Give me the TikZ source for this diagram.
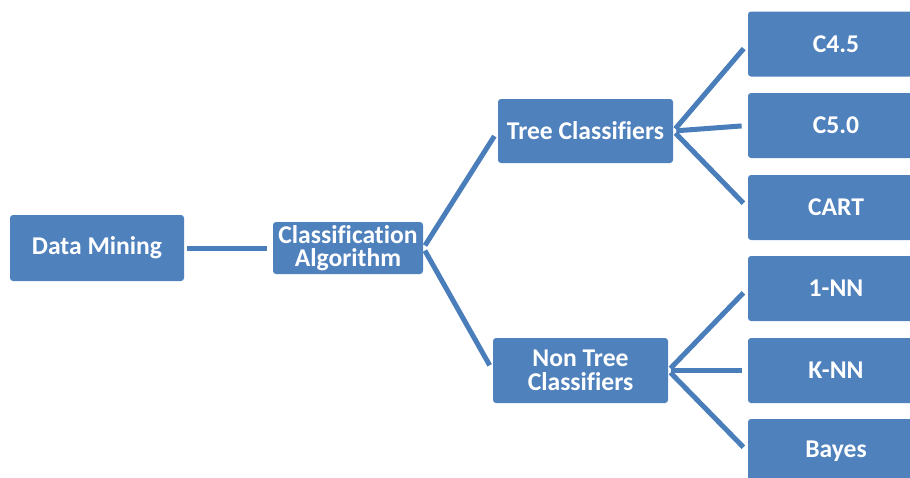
\documentclass[tikz,border=0pt]{standalone}
\usepackage{fontspec}
\setmainfont{Carlito}[Ligatures=NoCommon]
\definecolor{boxblue}{HTML}{4F81BD}
\definecolor{linkblue}{HTML}{4A7EBB}

\begin{document}
\begin{tikzpicture}[
    x=0.5pt, y=-0.5pt,
    box/.style={fill=boxblue, rounded corners=1.5pt, text=white, inner sep=0pt,
                font=\fontsize{12.8}{11.8}\selectfont\bfseries, align=center},
    leaf/.style={box, minimum width=88pt, minimum height=32.5pt},
    link/.style={draw=linkblue, line width=2.5pt, shorten <=1.5pt, shorten >=3pt}
]

\clip (0,0) rectangle (910,477);

\node[box, minimum width=87pt, minimum height=33pt]   (dm)  at (97,248)    {Data Mining};
\node[box, minimum width=75pt, minimum height=26pt]   (ca)  at (348,248)   {Classification\\Algorithm};
\node[box, minimum width=87.5pt, minimum height=32pt] (tc)  at (585.5,131) {Tree Classifiers};
\node[box, minimum width=87.5pt, minimum height=32.5pt] (ntc) at (580.5,370.5) {Non Tree\\Classifiers};

\node[leaf] (c45)   at (836,44)    {C4.5};
\node[leaf] (c50)   at (836,125.5) {C5.0};
\node[leaf] (cart)  at (836,207.5) {CART};
\node[leaf] (nn1)   at (836,288.5) {1-NN};
\node[leaf] (knn)   at (836,370.5) {K-NN};
\node[leaf] (bayes) at (836,451.5) {Bayes};

\draw[link] (dm) -- (ca);
\draw[link] (ca.east) -- (tc.west);
\draw[link] (ca.east) -- (ntc.west);

\foreach \t in {c45, c50, cart}
    \draw[link] (tc.east) -- (\t.west);
\foreach \t in {nn1, knn, bayes}
    \draw[link] (ntc.east) -- (\t.west);

\end{tikzpicture}
\end{document}
